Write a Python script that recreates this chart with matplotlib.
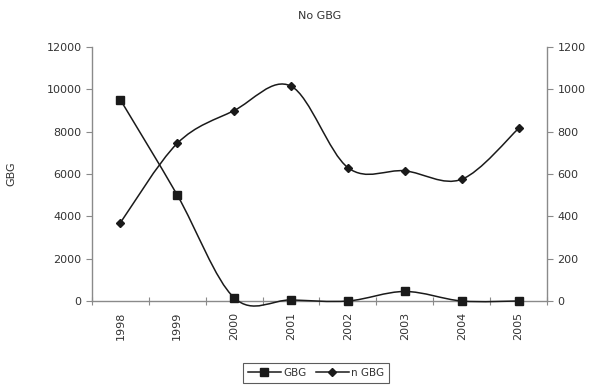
import numpy as np
import matplotlib.pyplot as plt
from matplotlib.path import Path
from matplotlib.patches import PathPatch
from matplotlib.lines import Line2D

years = ['1998', '1999', '2000', '2001', '2002', '2003', '2004', '2005']
gbg = [9500, 5000, 150, 50, 0, 450, 0, 0]
n_gbg = [370, 745, 900, 1015, 630, 615, 575, 815]

ink = '#1a1a1a'
axis_col = '#8a8a8a'
text_col = '#333333'


def smooth_path(x, y):
    # Excel-style smoothed line: cubic bezier with catmull-rom control points
    pts = np.column_stack([x, y]).astype(float)
    n = len(pts)
    verts = [pts[0]]
    codes = [Path.MOVETO]
    for i in range(n - 1):
        p0 = pts[i - 1] if i > 0 else pts[i]
        p1 = pts[i]
        p2 = pts[i + 1]
        p3 = pts[i + 2] if i + 2 < n else pts[i + 1]
        verts += [p1 + (p2 - p0) / 6, p2 - (p3 - p1) / 6, p2]
        codes += [Path.CURVE4] * 3
    return Path(verts, codes)


x = np.arange(len(years)) + 0.5

fig = plt.figure(figsize=(5.99, 3.88), dpi=100)
ax = fig.add_axes([92 / 599, 1 - 301 / 388, 455 / 599, 254 / 388])
ax2 = ax.twinx()

ax.add_patch(PathPatch(smooth_path(x, gbg), fill=False, ec=ink, lw=1.1, clip_on=False, zorder=3))
ax.plot(x, gbg, ls='none', marker='s', ms=6, color=ink, clip_on=False, zorder=4)
ax2.add_patch(PathPatch(smooth_path(x, n_gbg), fill=False, ec=ink, lw=1.1, clip_on=False, zorder=3))
ax2.plot(x, n_gbg, ls='none', marker='D', ms=4.5, color=ink, clip_on=False, zorder=4)

ax.set_xlim(0, len(years))
ax.set_ylim(0, 12000)
ax2.set_ylim(0, 1200)
ax.set_yticks(np.arange(0, 12001, 2000))
ax2.set_yticks(np.arange(0, 1201, 200))

ax.set_xticks(np.arange(0, len(years) + 1))
ax.set_xticklabels([])
ax.set_xticks(x, minor=True)
ax.set_xticklabels(years, minor=True, rotation=90)
ax.tick_params(axis='x', which='major', direction='inout', length=6, color=axis_col)
ax.tick_params(axis='x', which='minor', length=0, pad=8, labelsize=8, labelcolor=text_col)
ax.tick_params(axis='y', direction='out', length=4, color=axis_col, labelsize=8, labelcolor=text_col)
ax2.tick_params(axis='y', direction='out', length=4, color=axis_col, labelsize=8, labelcolor=text_col)

for a in (ax, ax2):
    for s in a.spines.values():
        s.set_visible(False)
ax.spines['left'].set_visible(True)
ax.spines['bottom'].set_visible(True)
ax2.spines['right'].set_visible(True)
for s in (ax.spines['left'], ax.spines['bottom'], ax2.spines['right']):
    s.set_color(axis_col)
    s.set_linewidth(1.0)

ax.set_ylabel('GBG', fontsize=8, color=text_col, labelpad=22)
ax.set_title('No GBG', fontsize=8, color=text_col, pad=20)

handles = [Line2D([], [], color=ink, lw=1.1, marker='s', ms=5.5),
           Line2D([], [], color=ink, lw=1.1, marker='D', ms=4)]
leg = fig.legend(handles, ['GBG', 'n GBG'], loc='center', bbox_to_anchor=(316 / 599, 1 - 373 / 388),
                 ncol=2, fontsize=7.5, frameon=True, fancybox=False, handlelength=3.2,
                 handletextpad=0.2, columnspacing=0.9, borderpad=0.45, labelcolor=text_col)
leg.get_frame().set_edgecolor('#333333')
leg.get_frame().set_linewidth(0.8)

fig.savefig('out.png', dpi=100)
